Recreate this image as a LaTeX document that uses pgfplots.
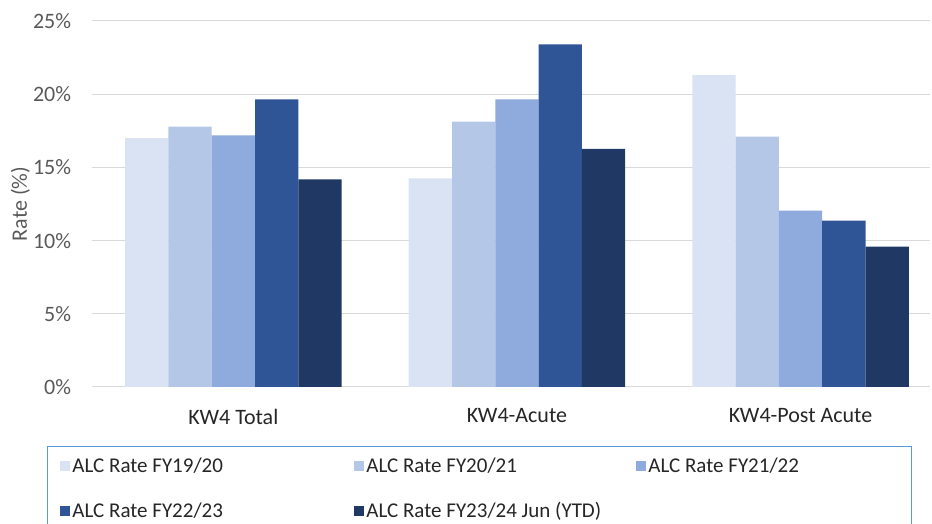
\documentclass[border=0pt]{standalone}
\usepackage{pgfplots}
\pgfplotsset{compat=1.18}
\usepackage{fontspec}
\setmainfont{Carlito}
\definecolor{c1}{HTML}{DAE3F3}
\definecolor{c2}{HTML}{B4C7E7}
\definecolor{c3}{HTML}{8FAADC}
\definecolor{c4}{HTML}{2F5597}
\definecolor{c5}{HTML}{203864}
\definecolor{gridc}{HTML}{D9D9D9}
\definecolor{tickc}{HTML}{595959}
\definecolor{legc}{HTML}{5B9BD5}
\begin{document}
\begin{tikzpicture}
\useasboundingbox (0,0) rectangle (932pt,524pt);
\begin{axis}[
  at={(91.6pt,137pt)}, anchor=south west,
  scale only axis, width=838pt, height=366pt,
  xmin=-0.5, xmax=2.455, ymin=0, ymax=25,
  ybar=0pt, bar width=43.3pt,
  xtick={0,1,2}, xticklabels={KW4 Total,KW4-Acute,KW4-Post Acute},
  ytick={0,5,10,15,20,25},
  yticklabel={\pgfmathprintnumber{\tick}\%},
  /pgf/number format/assume math mode=true,
  tick style={draw=none},
  ymajorgrids, grid style={gridc, line width=1pt},
  axis x line*=bottom, axis y line*=left,
  x axis line style={gridc, line width=1pt, -},
  y axis line style={draw=none, -},
  yticklabel style={font=\fontsize{22}{24}\selectfont, text=tickc, xshift=-17pt},
  xticklabel style={font=\fontsize{22}{24}\selectfont, text=black!85, yshift=-14pt},
  ylabel={Rate (\%)},
  ylabel style={font=\fontsize{22}{24}\selectfont, text=tickc, at={(axis description cs:-0.085,0.5)}, anchor=center, rotate=0},
  legend columns=3,
  legend cell align=left,
  legend style={at={(-0.0532,-0.161)}, anchor=north west, draw=legc, line width=0.8pt,
    font=\fontsize{21}{24}\selectfont, text=black!85,
    inner xsep=13pt, inner ysep=10pt,
    /tikz/every even column/.append style={column sep=2pt},
    row sep=24pt},
  legend image code/.code={\fill[#1] (0pt,-5pt) rectangle (10pt,5pt);},
]
\addplot[fill=c1, draw=none] coordinates {(0,17.0) (1,14.25) (2,21.3)};
\addplot[fill=c2, draw=none] coordinates {(0,17.78) (1,18.12) (2,17.1)};
\addplot[fill=c3, draw=none] coordinates {(0,17.19) (1,19.65) (2,12.04)};
\addplot[fill=c4, draw=none] coordinates {(0,19.65) (1,23.4) (2,11.36)};
\addplot[fill=c5, draw=none] coordinates {(0,14.19) (1,16.26) (2,9.58)};
\addlegendentry{\makebox[278pt][l]{ALC Rate FY19/20}}
\addlegendentry{\makebox[266pt][l]{ALC Rate FY20/21}}
\addlegendentry{\makebox[248pt][l]{ALC Rate FY21/22}}
\addlegendentry{\makebox[278pt][l]{ALC Rate FY22/23}}
\addlegendentry{\makebox[266pt][l]{ALC Rate FY23/24 Jun (YTD)}}
\end{axis}
\end{tikzpicture}
\end{document}
